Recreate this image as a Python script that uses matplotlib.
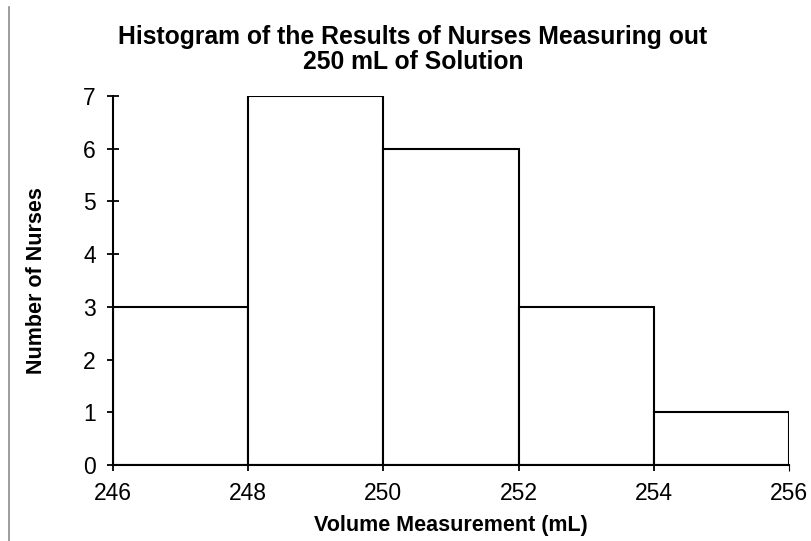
import numpy as np
import matplotlib
matplotlib.use('Agg')
import matplotlib.pyplot as plt
from matplotlib.lines import Line2D

plt.rcParams['font.family'] = ['Liberation Sans', 'DejaVu Sans']

# bin edges (mL) and counts per bin
bin_edges = [246, 248, 250, 252, 254, 256]
counts = [3, 7, 6, 3, 1]
y_ticks = [0, 1, 2, 3, 4, 5, 6, 7]

fig = plt.figure(figsize=(8.11, 5.41), dpi=100)
ax = fig.add_axes([113 / 811, 76 / 541, (789 - 113) / 811, (465 - 96) / 541])

left = np.array(bin_edges[:-1])
widths = np.diff(bin_edges)
ax.bar(left, counts, width=widths, align='edge', facecolor='white',
       edgecolor='black', linewidth=1.5, zorder=2)

ax.set_xlim(bin_edges[0], bin_edges[-1])
ax.set_ylim(0, max(y_ticks))
ax.set_xticks(bin_edges)
ax.set_yticks(y_ticks)

for s in ('top', 'right'):
    ax.spines[s].set_visible(False)
for s in ('left', 'bottom'):
    ax.spines[s].set_linewidth(1.5)
    ax.spines[s].set_zorder(3)

ax.tick_params(axis='y', direction='inout', length=9, width=1.3, pad=8,
               labelsize=16.5)
ax.tick_params(axis='x', direction='out', length=4, width=1.3, pad=8.5,
               labelsize=16.5)
# last x tick is drawn lighter
ax.xaxis.get_major_ticks()[-1].tick1line.set_color('#777777')
ax.xaxis.get_major_ticks()[-1].tick1line.set_markeredgewidth(0.8)

ax.set_xlabel('Volume Measurement (mL)', fontsize=15.5, fontweight='bold',
              labelpad=7)
ax.set_ylabel('Number of Nurses', fontsize=15.5, fontweight='bold',
              labelpad=26)

fig.text(413 / 811, 1 - 49.5 / 541,
         'Histogram of the Results of Nurses Measuring out\n250 mL of Solution',
         ha='center', va='center', fontsize=17.8, fontweight='bold',
         linespacing=1.1)

# thin frame line at the left edge of the chart area
fig.add_artist(Line2D([8.5 / 811, 8.5 / 811], [0, 1 - 7 / 541],
                      transform=fig.transFigure, color='#8c8c8c', linewidth=1.2))

fig.savefig('out.png', dpi=100, facecolor='white')
